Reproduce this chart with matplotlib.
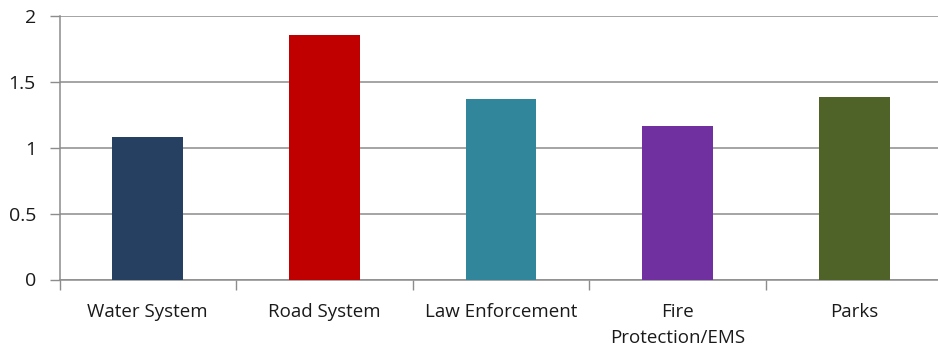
import matplotlib
matplotlib.use("Agg")
from matplotlib import pyplot as plt
import numpy as np

# 数据
categories = ["Water System", "Road System", "Law Enforcement", "Fire\nProtection/EMS", "Parks"]
values = [1.085, 1.86, 1.375, 1.17, 1.39]
colors = ["#264061", "#C00000", "#31869B", "#7030A0", "#4F6228"]

plt.rcParams['font.family'] = ['Open Sans', 'DejaVu Sans']

fig = plt.figure(figsize=(9.38, 3.48), dpi=100)
ax = fig.add_axes([59.5 / 938, 68.5 / 348, 883 / 938, 263 / 348])

x = np.arange(len(categories))
ax.bar(x, values, width=0.4, color=colors, zorder=3)

ax.set_xlim(-0.5, len(categories) - 0.5)
ax.set_ylim(0, 2)
ax.set_yticks([0, 0.5, 1, 1.5, 2])
ax.set_yticklabels(["0", "0.5", "1", "1.5", "2"])
ax.yaxis.grid(True, color="#8c8c8c", linewidth=1.1, zorder=0)

# 类别之间的刻度线
ax.set_xticks(np.arange(-0.5, len(categories), 1.0))
ax.set_xticklabels([])
ax.tick_params(axis="x", which="major", length=7, color="#8c8c8c", width=1)
ax.set_xticks(x, minor=True)
ax.set_xticklabels(categories, minor=True, fontsize=13.5, color="#1a1a1a", linespacing=1.55)
ax.tick_params(axis="x", which="minor", length=0, pad=17)
ax.tick_params(axis="y", length=7, color="#8c8c8c", width=1, labelsize=14, labelcolor="#1a1a1a", pad=10)

for s in ["top", "right"]:
    ax.spines[s].set_visible(False)
ax.spines["left"].set_color("#8c8c8c")
ax.spines["bottom"].set_color("#8c8c8c")
ax.spines["left"].set_linewidth(1.1)
ax.spines["bottom"].set_linewidth(1.1)

fig.savefig("out.png", dpi=100)
